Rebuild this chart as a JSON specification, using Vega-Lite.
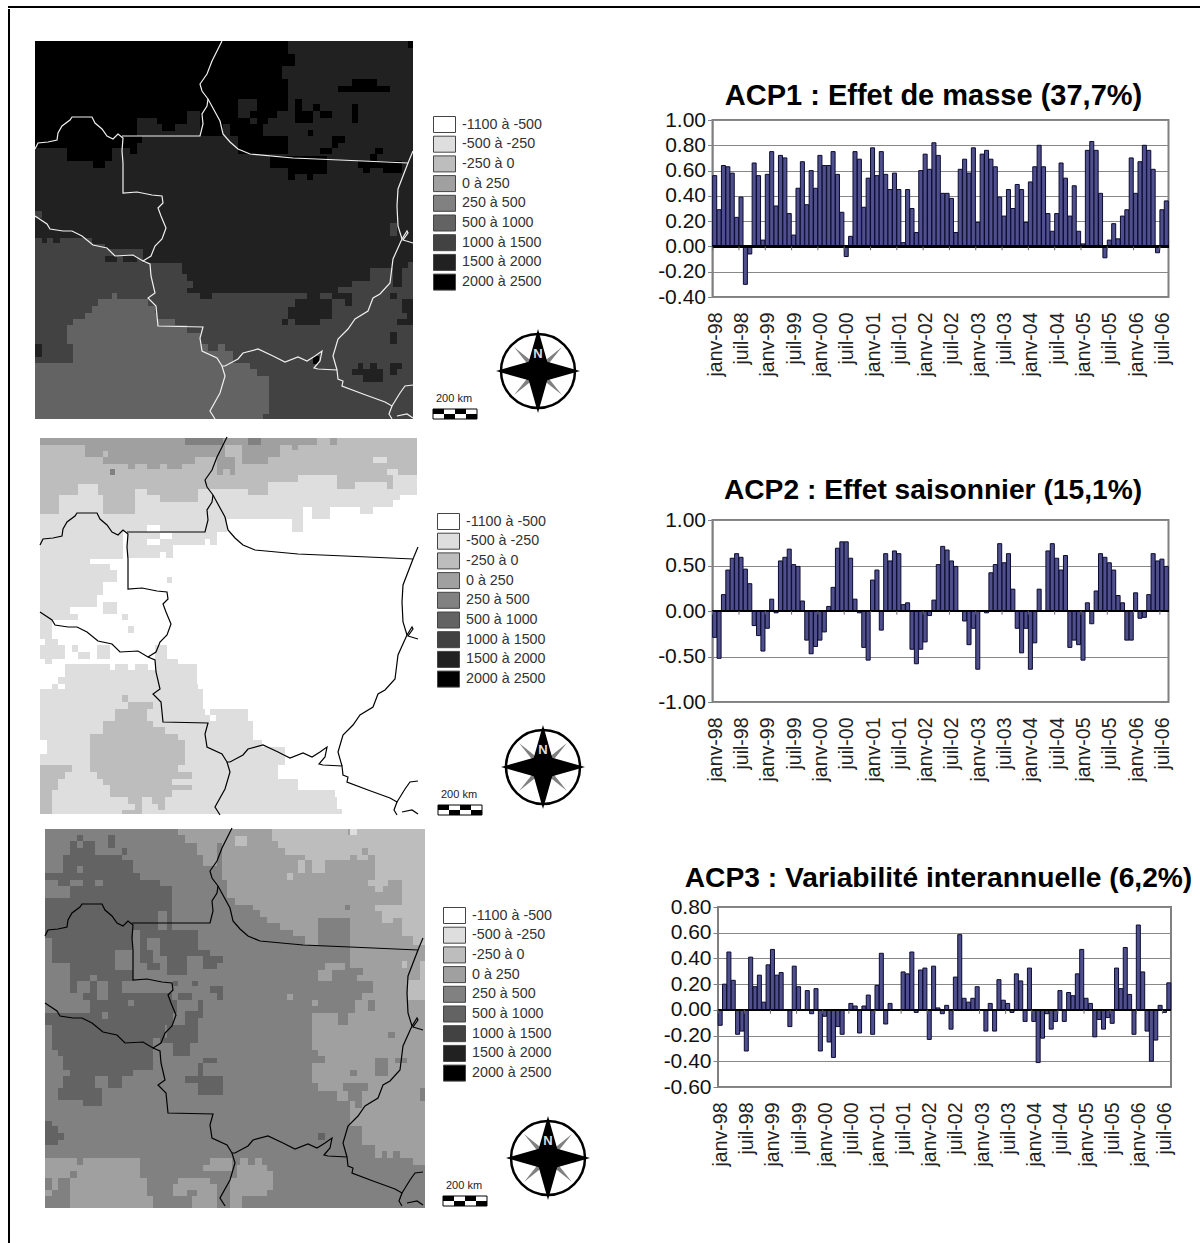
{"$schema":"https://vega.github.io/schema/vega-lite/v6.json","padding":{"left":7,"top":5,"right":0,"bottom":0},"background":"white","config":{"font":"Liberation Sans","view":{"continuousWidth":100}},
"datasets":{
"series":[
{"mois":"janv-98","acp1":0.56,"acp2":-0.29,"acp3":-0.12},{"mois":"févr-98","acp1":0.29,"acp2":-0.52,"acp3":0.20},{"mois":"mars-98","acp1":0.64,"acp2":0.18,"acp3":0.45},{"mois":"avr-98","acp1":0.63,"acp2":0.45,"acp3":0.23},{"mois":"mai-98","acp1":0.58,"acp2":0.58,"acp3":-0.19},{"mois":"juin-98","acp1":0.23,"acp2":0.63,"acp3":-0.165},{"mois":"juil-98","acp1":0.39,"acp2":0.59,"acp3":-0.32},{"mois":"août-98","acp1":-0.30,"acp2":0.46,"acp3":0.41},{"mois":"sept-98","acp1":-0.06,"acp2":0.30,"acp3":0.18},{"mois":"oct-98","acp1":0.66,"acp2":-0.16,"acp3":0.27},{"mois":"nov-98","acp1":0.56,"acp2":-0.27,"acp3":0.06},{"mois":"déc-98","acp1":0.05,"acp2":-0.44,"acp3":0.35},
{"mois":"janv-99","acp1":0.57,"acp2":-0.19,"acp3":0.47},{"mois":"févr-99","acp1":0.75,"acp2":0.13,"acp3":0.27},{"mois":"mars-99","acp1":0.32,"acp2":-0.02,"acp3":0.29},{"mois":"avr-99","acp1":0.72,"acp2":0.55,"acp3":0},{"mois":"mai-99","acp1":0.70,"acp2":0.59,"acp3":-0.13},{"mois":"juin-99","acp1":0.26,"acp2":0.68,"acp3":0.34},{"mois":"juil-99","acp1":0.09,"acp2":0.51,"acp3":0.18},{"mois":"août-99","acp1":0.46,"acp2":0.49,"acp3":0},{"mois":"sept-99","acp1":0.67,"acp2":0.11,"acp3":0.15},{"mois":"oct-99","acp1":0.33,"acp2":-0.32,"acp3":-0.03},{"mois":"nov-99","acp1":0.60,"acp2":-0.47,"acp3":0.165},{"mois":"déc-99","acp1":0.46,"acp2":-0.39,"acp3":-0.32},
{"mois":"janv-00","acp1":0.72,"acp2":-0.32,"acp3":-0.05},{"mois":"févr-00","acp1":0.64,"acp2":-0.23,"acp3":-0.25},{"mois":"mars-00","acp1":0.64,"acp2":0.05,"acp3":-0.37},{"mois":"avr-00","acp1":0.75,"acp2":0.26,"acp3":-0.13},{"mois":"mai-00","acp1":0.57,"acp2":0.69,"acp3":-0.19},{"mois":"juin-00","acp1":0.27,"acp2":0.76,"acp3":0},{"mois":"juil-00","acp1":-0.08,"acp2":0.76,"acp3":0.05},{"mois":"août-00","acp1":0.08,"acp2":0.58,"acp3":0.03},{"mois":"sept-00","acp1":0.75,"acp2":0.13,"acp3":-0.18},{"mois":"oct-00","acp1":0.69,"acp2":-0.02,"acp3":0.03},{"mois":"nov-00","acp1":0.31,"acp2":-0.40,"acp3":0.115},{"mois":"déc-00","acp1":0.54,"acp2":-0.54,"acp3":-0.19},
{"mois":"janv-01","acp1":0.78,"acp2":0.34,"acp3":0.19},{"mois":"févr-01","acp1":0.56,"acp2":0.45,"acp3":0.44},{"mois":"mars-01","acp1":0.75,"acp2":-0.21,"acp3":-0.11},{"mois":"avr-01","acp1":0.57,"acp2":0.63,"acp3":0.05},{"mois":"mai-01","acp1":0.45,"acp2":0.55,"acp3":0},{"mois":"juin-01","acp1":0.58,"acp2":0.66,"acp3":0},{"mois":"juil-01","acp1":0.45,"acp2":0.63,"acp3":0.295},{"mois":"août-01","acp1":0.03,"acp2":0.07,"acp3":0.28},{"mois":"sept-01","acp1":0.45,"acp2":0.09,"acp3":0.45},{"mois":"oct-01","acp1":0.30,"acp2":-0.42,"acp3":-0.02},{"mois":"nov-01","acp1":0.11,"acp2":-0.58,"acp3":0.31},{"mois":"déc-01","acp1":0.60,"acp2":-0.42,"acp3":0.325},
{"mois":"janv-02","acp1":0.73,"acp2":-0.34,"acp3":-0.23},{"mois":"févr-02","acp1":0.61,"acp2":-0.05,"acp3":0.34},{"mois":"mars-02","acp1":0.82,"acp2":0.12,"acp3":0.015},{"mois":"avr-02","acp1":0.72,"acp2":0.51,"acp3":-0.03},{"mois":"mai-02","acp1":0.42,"acp2":0.71,"acp3":0.035},{"mois":"juin-02","acp1":0.42,"acp2":0.67,"acp3":-0.15},{"mois":"juil-02","acp1":0.38,"acp2":0.55,"acp3":0.255},{"mois":"août-02","acp1":0.11,"acp2":0.49,"acp3":0.585},{"mois":"sept-02","acp1":0.61,"acp2":0,"acp3":0.09},{"mois":"oct-02","acp1":0.69,"acp2":-0.11,"acp3":0.06},{"mois":"nov-02","acp1":0.58,"acp2":-0.37,"acp3":0.09},{"mois":"déc-02","acp1":0.78,"acp2":-0.19,"acp3":0.18},
{"mois":"janv-03","acp1":0.19,"acp2":-0.64,"acp3":0},{"mois":"févr-03","acp1":0.73,"acp2":0,"acp3":-0.165},{"mois":"mars-03","acp1":0.76,"acp2":-0.02,"acp3":0.05},{"mois":"avr-03","acp1":0.69,"acp2":0.42,"acp3":-0.165},{"mois":"mai-03","acp1":0.63,"acp2":0.51,"acp3":0.235},{"mois":"juin-03","acp1":0.39,"acp2":0.74,"acp3":0.075},{"mois":"juil-03","acp1":0.24,"acp2":0.53,"acp3":0.05},{"mois":"août-03","acp1":0.45,"acp2":0.63,"acp3":-0.02},{"mois":"sept-03","acp1":0.30,"acp2":0.24,"acp3":0.28},{"mois":"oct-03","acp1":0.49,"acp2":-0.19,"acp3":0.225},{"mois":"nov-03","acp1":0.45,"acp2":-0.46,"acp3":-0.09},{"mois":"déc-03","acp1":0.19,"acp2":-0.19,"acp3":0.325},
{"mois":"janv-04","acp1":0.51,"acp2":-0.64,"acp3":-0.09},{"mois":"févr-04","acp1":0.63,"acp2":-0.35,"acp3":-0.41},{"mois":"mars-04","acp1":0.80,"acp2":0.24,"acp3":-0.22},{"mois":"avr-04","acp1":0.63,"acp2":0,"acp3":-0.03},{"mois":"mai-04","acp1":0.26,"acp2":0.66,"acp3":-0.15},{"mois":"juin-04","acp1":0.12,"acp2":0.74,"acp3":-0.09},{"mois":"juil-04","acp1":0.26,"acp2":0.58,"acp3":0.15},{"mois":"août-04","acp1":0.66,"acp2":0.45,"acp3":-0.09},{"mois":"sept-04","acp1":0.54,"acp2":0.61,"acp3":0.135},{"mois":"oct-04","acp1":0.24,"acp2":-0.40,"acp3":0.11},{"mois":"nov-04","acp1":0.48,"acp2":-0.32,"acp3":0.28},{"mois":"déc-04","acp1":0.12,"acp2":-0.37,"acp3":0.47},
{"mois":"janv-05","acp1":0.02,"acp2":-0.54,"acp3":0.09},{"mois":"févr-05","acp1":0.76,"acp2":0.09,"acp3":0.05},{"mois":"mars-05","acp1":0.83,"acp2":-0.14,"acp3":-0.21},{"mois":"avr-05","acp1":0.76,"acp2":0.22,"acp3":-0.075},{"mois":"mai-05","acp1":0.42,"acp2":0.63,"acp3":-0.15},{"mois":"juin-05","acp1":-0.09,"acp2":0.59,"acp3":-0.06},{"mois":"juil-05","acp1":0.05,"acp2":0.53,"acp3":-0.105},{"mois":"août-05","acp1":0.18,"acp2":0.45,"acp3":0.325},{"mois":"sept-05","acp1":0.06,"acp2":0.17,"acp3":0.165},{"mois":"oct-05","acp1":0.24,"acp2":0.09,"acp3":0.485},{"mois":"nov-05","acp1":0.29,"acp2":-0.32,"acp3":0.12},{"mois":"déc-05","acp1":0.70,"acp2":-0.32,"acp3":-0.19},
{"mois":"janv-06","acp1":0.42,"acp2":0.20,"acp3":0.66},{"mois":"févr-06","acp1":0.67,"acp2":-0.08,"acp3":0.295},{"mois":"mars-06","acp1":0.80,"acp2":-0.07,"acp3":-0.165},{"mois":"avr-06","acp1":0.76,"acp2":0.18,"acp3":-0.40},{"mois":"mai-06","acp1":0.61,"acp2":0.63,"acp3":-0.235},{"mois":"juin-06","acp1":-0.05,"acp2":0.55,"acp3":0.035},{"mois":"juil-06","acp1":0.29,"acp2":0.57,"acp3":-0.02},{"mois":"août-06","acp1":0.36,"acp2":0.49,"acp3":0.21}
],
"frontieres":[
{"s":"A","o":1,"x":575,"y":15},{"s":"A","o":2,"x":545,"y":75},{"s":"A","o":3,"x":530,"y":115},{"s":"A","o":4,"x":510,"y":145},{"s":"A","o":5,"x":515,"y":165},{"s":"A","o":6,"x":535,"y":190},{"s":"A","o":7,"x":570,"y":255},{"s":"A","o":8,"x":578,"y":295},{"s":"A","o":9,"x":600,"y":318},{"s":"A","o":10,"x":625,"y":340},{"s":"A","o":11,"x":660,"y":355},{"s":"A","o":12,"x":790,"y":365},{"s":"A","o":13,"x":930,"y":372},{"s":"A","o":14,"x":1135,"y":382},{"s":"A","o":15,"x":1150,"y":345},
{"s":"B","o":1,"x":535,"y":190},{"s":"B","o":2,"x":530,"y":210},{"s":"B","o":3,"x":517,"y":235},{"s":"B","o":4,"x":520,"y":265},{"s":"B","o":5,"x":510,"y":299},{"s":"B","o":6,"x":275,"y":301},
{"s":"C","o":1,"x":15,"y":340},{"s":"C","o":2,"x":25,"y":320},{"s":"C","o":3,"x":55,"y":318},{"s":"C","o":4,"x":80,"y":312},{"s":"C","o":5,"x":85,"y":290},{"s":"C","o":6,"x":95,"y":270},{"s":"C","o":7,"x":120,"y":252},{"s":"C","o":8,"x":125,"y":243},{"s":"C","o":9,"x":185,"y":243},{"s":"C","o":10,"x":195,"y":262},{"s":"C","o":11,"x":215,"y":278},{"s":"C","o":12,"x":232,"y":300},{"s":"C","o":13,"x":250,"y":308},{"s":"C","o":14,"x":265,"y":295},{"s":"C","o":15,"x":280,"y":305},{"s":"C","o":16,"x":275,"y":345},{"s":"C","o":17,"x":280,"y":380},{"s":"C","o":18,"x":278,"y":430},{"s":"C","o":19,"x":278,"y":470},{"s":"C","o":20,"x":320,"y":468},{"s":"C","o":21,"x":365,"y":478},{"s":"C","o":22,"x":395,"y":480},{"s":"C","o":23,"x":400,"y":500},{"s":"C","o":24,"x":385,"y":515},{"s":"C","o":25,"x":392,"y":540},{"s":"C","o":26,"x":408,"y":575},{"s":"C","o":27,"x":395,"y":610},{"s":"C","o":28,"x":375,"y":630},{"s":"C","o":29,"x":362,"y":660},{"s":"C","o":30,"x":340,"y":675},
{"s":"D","o":1,"x":15,"y":540},{"s":"D","o":2,"x":50,"y":565},{"s":"D","o":3,"x":60,"y":580},{"s":"D","o":4,"x":100,"y":585},{"s":"D","o":5,"x":125,"y":585},{"s":"D","o":6,"x":155,"y":600},{"s":"D","o":7,"x":190,"y":628},{"s":"D","o":8,"x":232,"y":635},{"s":"D","o":9,"x":255,"y":660},{"s":"D","o":10,"x":310,"y":658},{"s":"D","o":11,"x":340,"y":675},{"s":"D","o":12,"x":360,"y":685},{"s":"D","o":13,"x":362,"y":720},{"s":"D","o":14,"x":375,"y":770},{"s":"D","o":15,"x":355,"y":785},{"s":"D","o":16,"x":378,"y":810},{"s":"D","o":17,"x":385,"y":870},{"s":"D","o":18,"x":520,"y":872},{"s":"D","o":19,"x":510,"y":905},{"s":"D","o":20,"x":517,"y":945},{"s":"D","o":21,"x":560,"y":965},{"s":"D","o":22,"x":575,"y":990},{"s":"D","o":23,"x":585,"y":990},{"s":"D","o":24,"x":625,"y":970},{"s":"D","o":25,"x":640,"y":950},{"s":"D","o":26,"x":685,"y":940},{"s":"D","o":27,"x":730,"y":960},{"s":"D","o":28,"x":765,"y":978},{"s":"D","o":29,"x":805,"y":962},{"s":"D","o":30,"x":830,"y":975},{"s":"D","o":31,"x":855,"y":960},{"s":"D","o":32,"x":875,"y":945},{"s":"D","o":33,"x":870,"y":975},{"s":"D","o":34,"x":852,"y":995},{"s":"D","o":35,"x":865,"y":1000},{"s":"D","o":36,"x":920,"y":1002},{"s":"D","o":37,"x":925,"y":1030},{"s":"D","o":38,"x":940,"y":1035},{"s":"D","o":39,"x":935,"y":1050},{"s":"D","o":40,"x":1000,"y":1075},{"s":"D","o":41,"x":1065,"y":1098},{"s":"D","o":42,"x":1085,"y":1110},{"s":"D","o":43,"x":1110,"y":1070},{"s":"D","o":44,"x":1125,"y":1050},{"s":"D","o":45,"x":1150,"y":1047},
{"s":"E","o":1,"x":1135,"y":382},{"s":"E","o":2,"x":1105,"y":460},{"s":"E","o":3,"x":1100,"y":510},{"s":"E","o":4,"x":1105,"y":570},{"s":"E","o":5,"x":1115,"y":610},{"s":"E","o":6,"x":1090,"y":670},{"s":"E","o":7,"x":1080,"y":740},{"s":"E","o":8,"x":1050,"y":775},{"s":"E","o":9,"x":1030,"y":785},{"s":"E","o":10,"x":1015,"y":825},{"s":"E","o":11,"x":975,"y":850},{"s":"E","o":12,"x":955,"y":880},{"s":"E","o":13,"x":925,"y":910},{"s":"E","o":14,"x":908,"y":960},{"s":"E","o":15,"x":920,"y":1002},
{"s":"F","o":1,"x":1115,"y":610},{"s":"F","o":2,"x":1130,"y":585},{"s":"F","o":3,"x":1135,"y":590},{"s":"F","o":4,"x":1120,"y":612},{"s":"F","o":5,"x":1150,"y":620},
{"s":"G","o":1,"x":575,"y":990},{"s":"G","o":2,"x":585,"y":1020},{"s":"G","o":3,"x":570,"y":1070},{"s":"G","o":4,"x":540,"y":1125},{"s":"G","o":5,"x":555,"y":1148},
{"s":"H","o":1,"x":1085,"y":1110},{"s":"H","o":2,"x":1078,"y":1135},{"s":"H","o":3,"x":1085,"y":1148},
{"s":"I","o":1,"x":1100,"y":1140},{"s":"I","o":2,"x":1130,"y":1135},{"s":"I","o":3,"x":1150,"y":1145}
],
"echelle":[{"x0":1208,"x1":1241,"y0":1119,"y1":1134},{"x0":1274,"x1":1307,"y0":1119,"y1":1134},{"x0":1241,"x1":1274,"y0":1134,"y1":1149},{"x0":1307,"x1":1340,"y0":1134,"y1":1149}],
"echelleCadre":[{"x0":1208,"x1":1340,"y0":1119,"y1":1149}],
"echelleTexte":[{"x":1273,"y":1089,"t":"200 km"}],
"boussole":[{"x":1525,"y":1005,"t":"N"}],
"carte1":[
{"x0":15,"x1":1150,"y0":15,"y1":1148,"c":"1500 à 2000"},
{"x0":15,"x1":775,"y0":15,"y1":55,"c":"2000 à 2500"},{"x0":15,"x1":795,"y0":55,"y1":90,"c":"2000 à 2500"},{"x0":15,"x1":755,"y0":90,"y1":130,"c":"2000 à 2500"},{"x0":15,"x1":775,"y0":130,"y1":190,"c":"2000 à 2500"},
{"x0":15,"x1":625,"y0":190,"y1":225,"c":"2000 à 2500"},{"x0":680,"x1":775,"y0":190,"y1":225,"c":"2000 à 2500"},
{"x0":15,"x1":470,"y0":225,"y1":245,"c":"2000 à 2500"},{"x0":510,"x1":625,"y0":225,"y1":245,"c":"2000 à 2500"},{"x0":660,"x1":740,"y0":225,"y1":245,"c":"2000 à 2500"},
{"x0":15,"x1":320,"y0":245,"y1":265,"c":"2000 à 2500"},{"x0":380,"x1":470,"y0":245,"y1":265,"c":"2000 à 2500"},{"x0":510,"x1":660,"y0":245,"y1":265,"c":"2000 à 2500"},{"x0":680,"x1":715,"y0":245,"y1":265,"c":"2000 à 2500"},
{"x0":15,"x1":320,"y0":265,"y1":300,"c":"2000 à 2500"},{"x0":395,"x1":435,"y0":265,"y1":285,"c":"2000 à 2500"},{"x0":510,"x1":580,"y0":265,"y1":300,"c":"2000 à 2500"},{"x0":600,"x1":700,"y0":265,"y1":300,"c":"2000 à 2500"},
{"x0":15,"x1":280,"y0":300,"y1":335,"c":"2000 à 2500"},{"x0":280,"x1":335,"y0":300,"y1":320,"c":"2000 à 2500"},{"x0":280,"x1":320,"y0":320,"y1":335,"c":"2000 à 2500"},{"x0":625,"x1":775,"y0":300,"y1":355,"c":"2000 à 2500"},
{"x0":110,"x1":245,"y0":335,"y1":375,"c":"2000 à 2500"},{"x0":300,"x1":320,"y0":335,"y1":355,"c":"2000 à 2500"},{"x0":190,"x1":225,"y0":375,"y1":395,"c":"2000 à 2500"},
{"x0":720,"x1":890,"y0":360,"y1":395,"c":"2000 à 2500"},{"x0":775,"x1":890,"y0":395,"y1":413,"c":"2000 à 2500"},{"x0":775,"x1":795,"y0":413,"y1":432,"c":"2000 à 2500"},{"x0":830,"x1":850,"y0":413,"y1":432,"c":"2000 à 2500"},
{"x0":985,"x1":1115,"y0":375,"y1":395,"c":"2000 à 2500"},{"x0":1000,"x1":1020,"y0":395,"y1":412,"c":"2000 à 2500"},{"x0":1060,"x1":1115,"y0":395,"y1":412,"c":"2000 à 2500"},
{"x0":870,"x1":905,"y0":337,"y1":355,"c":"2000 à 2500"},{"x0":905,"x1":945,"y0":300,"y1":320,"c":"2000 à 2500"},{"x0":905,"x1":925,"y0":320,"y1":337,"c":"2000 à 2500"},{"x0":1035,"x1":1060,"y0":337,"y1":355,"c":"2000 à 2500"},{"x0":1020,"x1":1040,"y0":355,"y1":375,"c":"2000 à 2500"},{"x0":835,"x1":850,"y0":282,"y1":300,"c":"2000 à 2500"},{"x0":1135,"x1":1150,"y0":15,"y1":35,"c":"2000 à 2500"},
{"x0":925,"x1":1080,"y0":150,"y1":168,"c":"2000 à 2500"},{"x0":965,"x1":1040,"y0":130,"y1":150,"c":"2000 à 2500"},{"x0":965,"x1":985,"y0":205,"y1":262,"c":"2000 à 2500"},{"x0":850,"x1":870,"y0":205,"y1":225,"c":"2000 à 2500"},{"x0":870,"x1":905,"y0":225,"y1":245,"c":"2000 à 2500"},{"x0":795,"x1":815,"y0":190,"y1":225,"c":"2000 à 2500"},{"x0":795,"x1":850,"y0":225,"y1":262,"c":"2000 à 2500"},
{"x0":15,"x1":35,"y0":525,"y1":545,"c":"1000 à 1500"},{"x0":15,"x1":185,"y0":605,"y1":625,"c":"1000 à 1500"},{"x0":35,"x1":50,"y0":605,"y1":622,"c":"1500 à 2000"},{"x0":70,"x1":90,"y0":605,"y1":622,"c":"1500 à 2000"},{"x0":15,"x1":225,"y0":625,"y1":640,"c":"1000 à 1500"},{"x0":15,"x1":340,"y0":640,"y1":680,"c":"1000 à 1500"},{"x0":225,"x1":262,"y0":660,"y1":678,"c":"1500 à 2000"},{"x0":280,"x1":320,"y0":660,"y1":678,"c":"1500 à 2000"},
{"x0":15,"x1":455,"y0":680,"y1":715,"c":"1000 à 1500"},{"x0":15,"x1":470,"y0":715,"y1":735,"c":"1000 à 1500"},{"x0":15,"x1":490,"y0":735,"y1":755,"c":"1000 à 1500"},{"x0":15,"x1":470,"y0":755,"y1":772,"c":"1000 à 1500"},{"x0":15,"x1":510,"y0":772,"y1":790,"c":"1000 à 1500"},{"x0":545,"x1":830,"y0":772,"y1":790,"c":"1000 à 1500"},{"x0":870,"x1":905,"y0":772,"y1":790,"c":"1000 à 1500"},
{"x0":925,"x1":1150,"y0":752,"y1":790,"c":"1000 à 1500"},{"x0":965,"x1":1090,"y0":735,"y1":752,"c":"1000 à 1500"},{"x0":1020,"x1":1090,"y0":697,"y1":735,"c":"1000 à 1500"},{"x0":1115,"x1":1150,"y0":697,"y1":752,"c":"1000 à 1500"},{"x0":1135,"x1":1150,"y0":678,"y1":697,"c":"1000 à 1500"},{"x0":1080,"x1":1100,"y0":562,"y1":600,"c":"1000 à 1500"},
{"x0":15,"x1":1150,"y0":790,"y1":1148,"c":"1000 à 1500"},
{"x0":795,"x1":905,"y0":790,"y1":812,"c":"1500 à 2000"},{"x0":775,"x1":905,"y0":812,"y1":850,"c":"1500 à 2000"},{"x0":795,"x1":870,"y0":850,"y1":868,"c":"1500 à 2000"},{"x0":755,"x1":775,"y0":850,"y1":868,"c":"1500 à 2000"},{"x0":905,"x1":965,"y0":772,"y1":790,"c":"1500 à 2000"},{"x0":830,"x1":870,"y0":772,"y1":790,"c":"1500 à 2000"},{"x0":945,"x1":965,"y0":790,"y1":810,"c":"1500 à 2000"},
{"x0":1080,"x1":1100,"y0":772,"y1":790,"c":"1500 à 2000"},{"x0":1115,"x1":1150,"y0":790,"y1":830,"c":"1500 à 2000"},{"x0":1130,"x1":1150,"y0":810,"y1":850,"c":"1500 à 2000"},{"x0":1100,"x1":1150,"y0":850,"y1":868,"c":"1500 à 2000"},{"x0":1080,"x1":1100,"y0":888,"y1":925,"c":"1500 à 2000"},
{"x0":985,"x1":1000,"y0":980,"y1":1000,"c":"1500 à 2000"},{"x0":1020,"x1":1040,"y0":980,"y1":1000,"c":"1500 à 2000"},{"x0":1080,"x1":1115,"y0":980,"y1":1000,"c":"1500 à 2000"},{"x0":1080,"x1":1100,"y0":1000,"y1":1017,"c":"1500 à 2000"},{"x0":965,"x1":1060,"y0":1000,"y1":1017,"c":"1500 à 2000"},{"x0":1000,"x1":1060,"y0":1017,"y1":1037,"c":"1500 à 2000"},
{"x0":15,"x1":35,"y0":925,"y1":963,"c":"1500 à 2000"},{"x0":850,"x1":868,"y0":960,"y1":985,"c":"2000 à 2500"},
{"x0":245,"x1":262,"y0":772,"y1":790,"c":"500 à 1000"},{"x0":205,"x1":355,"y0":790,"y1":810,"c":"500 à 1000"},{"x0":185,"x1":375,"y0":810,"y1":830,"c":"500 à 1000"},{"x0":165,"x1":380,"y0":830,"y1":850,"c":"500 à 1000"},{"x0":130,"x1":435,"y0":850,"y1":868,"c":"500 à 1000"},{"x0":110,"x1":470,"y0":868,"y1":890,"c":"500 à 1000"},{"x0":110,"x1":510,"y0":890,"y1":925,"c":"500 à 1000"},{"x0":130,"x1":535,"y0":925,"y1":945,"c":"500 à 1000"},{"x0":565,"x1":585,"y0":925,"y1":945,"c":"500 à 1000"},{"x0":130,"x1":610,"y0":945,"y1":980,"c":"500 à 1000"},{"x0":15,"x1":660,"y0":980,"y1":1000,"c":"500 à 1000"},{"x0":15,"x1":680,"y0":1000,"y1":1020,"c":"500 à 1000"},{"x0":15,"x1":718,"y0":1020,"y1":1135,"c":"500 à 1000"},{"x0":15,"x1":700,"y0":1135,"y1":1148,"c":"500 à 1000"}
],
"carte2":[
{"x0":15,"x1":1147,"y0":18,"y1":245,"c":"-250 à 0"},
{"x0":15,"x1":450,"y0":18,"y1":38,"c":"0 à 250"},{"x0":450,"x1":565,"y0":18,"y1":38,"c":"250 à 500"},{"x0":565,"x1":640,"y0":18,"y1":38,"c":"0 à 250"},{"x0":640,"x1":678,"y0":18,"y1":38,"c":"250 à 500"},{"x0":678,"x1":845,"y0":18,"y1":38,"c":"0 à 250"},{"x0":885,"x1":905,"y0":18,"y1":38,"c":"0 à 250"},
{"x0":150,"x1":570,"y0":38,"y1":57,"c":"0 à 250"},{"x0":620,"x1":735,"y0":38,"y1":57,"c":"0 à 250"},{"x0":770,"x1":790,"y0":38,"y1":55,"c":"0 à 250"},{"x0":150,"x1":205,"y0":57,"y1":75,"c":"0 à 250"},{"x0":220,"x1":570,"y0":57,"y1":75,"c":"0 à 250"},{"x0":620,"x1":735,"y0":57,"y1":75,"c":"0 à 250"},
{"x0":205,"x1":480,"y0":75,"y1":95,"c":"0 à 250"},{"x0":545,"x1":600,"y0":75,"y1":112,"c":"0 à 250"},{"x0":620,"x1":700,"y0":75,"y1":95,"c":"0 à 250"},{"x0":280,"x1":300,"y0":95,"y1":112,"c":"0 à 250"},{"x0":335,"x1":375,"y0":95,"y1":112,"c":"0 à 250"},{"x0":395,"x1":440,"y0":95,"y1":112,"c":"0 à 250"},{"x0":225,"x1":240,"y0":112,"y1":130,"c":"250 à 500"},{"x0":545,"x1":565,"y0":112,"y1":130,"c":"0 à 250"},{"x0":585,"x1":600,"y0":112,"y1":130,"c":"0 à 250"},
{"x0":1015,"x1":1055,"y0":75,"y1":92,"c":"-500 à -250"},{"x0":1055,"x1":1147,"y0":112,"y1":130,"c":"-500 à -250"},{"x0":1075,"x1":1147,"y0":130,"y1":245,"c":"-500 à -250"},{"x0":1090,"x1":1147,"y0":112,"y1":130,"c":"-250 à 0"},
{"x0":15,"x1":72,"y0":245,"y1":300,"c":"-500 à -250"},{"x0":72,"x1":130,"y0":190,"y1":245,"c":"-500 à -250"},{"x0":130,"x1":190,"y0":155,"y1":245,"c":"-500 à -250"},{"x0":190,"x1":205,"y0":190,"y1":245,"c":"-500 à -250"},{"x0":300,"x1":335,"y0":170,"y1":245,"c":"-500 à -250"},{"x0":335,"x1":375,"y0":190,"y1":245,"c":"-500 à -250"},{"x0":375,"x1":490,"y0":210,"y1":245,"c":"-500 à -250"},{"x0":490,"x1":640,"y0":170,"y1":245,"c":"-500 à -250"},{"x0":640,"x1":700,"y0":190,"y1":245,"c":"-500 à -250"},{"x0":700,"x1":790,"y0":150,"y1":245,"c":"-500 à -250"},{"x0":790,"x1":905,"y0":130,"y1":245,"c":"-500 à -250"},{"x0":905,"x1":960,"y0":170,"y1":245,"c":"-500 à -250"},{"x0":960,"x1":1055,"y0":150,"y1":245,"c":"-500 à -250"},{"x0":1055,"x1":1075,"y0":170,"y1":245,"c":"-500 à -250"},
{"x0":805,"x1":830,"y0":225,"y1":245,"c":"-1100 à -500"},{"x0":885,"x1":975,"y0":225,"y1":245,"c":"-1100 à -500"},{"x0":1015,"x1":1147,"y0":225,"y1":245,"c":"-1100 à -500"},{"x0":1095,"x1":1147,"y0":190,"y1":225,"c":"-1100 à -500"},{"x0":1075,"x1":1095,"y0":205,"y1":225,"c":"-1100 à -500"},
{"x0":15,"x1":575,"y0":245,"y1":300,"c":"-500 à -250"},{"x0":575,"x1":770,"y0":245,"y1":262,"c":"-500 à -250"},{"x0":770,"x1":805,"y0":245,"y1":300,"c":"-500 à -250"},{"x0":830,"x1":885,"y0":245,"y1":262,"c":"-500 à -250"},
{"x0":15,"x1":265,"y0":300,"y1":380,"c":"-500 à -250"},{"x0":275,"x1":510,"y0":300,"y1":338,"c":"-500 à -250"},{"x0":510,"x1":545,"y0":300,"y1":320,"c":"-500 à -250"},{"x0":525,"x1":545,"y0":320,"y1":338,"c":"-500 à -250"},{"x0":275,"x1":415,"y0":338,"y1":378,"c":"-500 à -250"},
{"x0":335,"x1":375,"y0":280,"y1":300,"c":"-1100 à -500"},{"x0":335,"x1":375,"y0":320,"y1":338,"c":"-1100 à -500"},{"x0":375,"x1":410,"y0":302,"y1":320,"c":"-1100 à -500"},{"x0":375,"x1":393,"y0":360,"y1":378,"c":"-1100 à -500"},
{"x0":15,"x1":165,"y0":380,"y1":395,"c":"-500 à -250"},{"x0":15,"x1":225,"y0":395,"y1":415,"c":"-500 à -250"},{"x0":15,"x1":245,"y0":415,"y1":450,"c":"-500 à -250"},{"x0":15,"x1":205,"y0":450,"y1":490,"c":"-500 à -250"},{"x0":15,"x1":185,"y0":490,"y1":525,"c":"-500 à -250"},{"x0":15,"x1":105,"y0":525,"y1":545,"c":"-500 à -250"},{"x0":15,"x1":130,"y0":545,"y1":565,"c":"-500 à -250"},{"x0":15,"x1":50,"y0":565,"y1":620,"c":"-500 à -250"},
{"x0":205,"x1":245,"y0":510,"y1":545,"c":"-500 à -250"},{"x0":260,"x1":280,"y0":545,"y1":565,"c":"-500 à -250"},{"x0":280,"x1":298,"y0":583,"y1":602,"c":"-500 à -250"},{"x0":395,"x1":412,"y0":435,"y1":452,"c":"-500 à -250"},
{"x0":30,"x1":70,"y0":622,"y1":640,"c":"-500 à -250"},{"x0":15,"x1":90,"y0":640,"y1":680,"c":"-500 à -250"},{"x0":30,"x1":50,"y0":680,"y1":697,"c":"-500 à -250"},{"x0":110,"x1":130,"y0":640,"y1":660,"c":"-500 à -250"},{"x0":185,"x1":225,"y0":640,"y1":680,"c":"-500 à -250"},{"x0":130,"x1":165,"y0":660,"y1":680,"c":"-500 à -250"},{"x0":360,"x1":395,"y0":640,"y1":680,"c":"-500 à -250"},{"x0":360,"x1":430,"y0":680,"y1":697,"c":"-500 à -250"},
{"x0":90,"x1":225,"y0":697,"y1":715,"c":"-500 à -250"},{"x0":240,"x1":280,"y0":697,"y1":715,"c":"-500 à -250"},{"x0":300,"x1":340,"y0":697,"y1":715,"c":"-500 à -250"},{"x0":360,"x1":485,"y0":697,"y1":715,"c":"-500 à -250"},
{"x0":90,"x1":485,"y0":715,"y1":735,"c":"-500 à -250"},{"x0":70,"x1":485,"y0":735,"y1":755,"c":"-500 à -250"},{"x0":90,"x1":490,"y0":755,"y1":772,"c":"-500 à -250"},{"x0":50,"x1":70,"y0":755,"y1":772,"c":"-500 à -250"},{"x0":15,"x1":505,"y0":772,"y1":830,"c":"-500 à -250"},{"x0":15,"x1":640,"y0":830,"y1":868,"c":"-500 à -250"},{"x0":510,"x1":525,"y0":830,"y1":850,"c":"-1100 à -500"},{"x0":525,"x1":542,"y0":850,"y1":868,"c":"-1100 à -500"},{"x0":15,"x1":655,"y0":868,"y1":925,"c":"-500 à -250"},{"x0":35,"x1":680,"y0":925,"y1":945,"c":"-500 à -250"},{"x0":35,"x1":750,"y0":945,"y1":965,"c":"-500 à -250"},{"x0":15,"x1":750,"y0":965,"y1":1000,"c":"-500 à -250"},{"x0":15,"x1":730,"y0":1000,"y1":1040,"c":"-500 à -250"},{"x0":15,"x1":790,"y0":1040,"y1":1075,"c":"-500 à -250"},{"x0":15,"x1":900,"y0":1075,"y1":1095,"c":"-500 à -250"},{"x0":15,"x1":905,"y0":1095,"y1":1130,"c":"-500 à -250"},{"x0":15,"x1":920,"y0":1130,"y1":1145,"c":"-500 à -250"},
{"x0":260,"x1":280,"y0":790,"y1":810,"c":"-250 à 0"},{"x0":280,"x1":355,"y0":810,"y1":830,"c":"-250 à 0"},{"x0":240,"x1":335,"y0":830,"y1":868,"c":"-250 à 0"},{"x0":205,"x1":355,"y0":868,"y1":885,"c":"-250 à 0"},{"x0":205,"x1":390,"y0":885,"y1":905,"c":"-250 à 0"},{"x0":165,"x1":430,"y0":905,"y1":925,"c":"-250 à 0"},{"x0":165,"x1":450,"y0":925,"y1":1000,"c":"-250 à 0"},{"x0":165,"x1":430,"y0":1000,"y1":1020,"c":"-250 à 0"},{"x0":185,"x1":470,"y0":1020,"y1":1040,"c":"-250 à 0"},{"x0":205,"x1":410,"y0":1040,"y1":1058,"c":"-250 à 0"},{"x0":225,"x1":470,"y0":1058,"y1":1075,"c":"-250 à 0"},{"x0":225,"x1":410,"y0":1075,"y1":1095,"c":"-250 à 0"},{"x0":280,"x1":320,"y0":1095,"y1":1115,"c":"-250 à 0"},{"x0":350,"x1":390,"y0":1095,"y1":1115,"c":"-250 à 0"},{"x0":300,"x1":320,"y0":1115,"y1":1133,"c":"-250 à 0"},{"x0":370,"x1":390,"y0":1115,"y1":1133,"c":"-250 à 0"},{"x0":260,"x1":320,"y0":1133,"y1":1145,"c":"-250 à 0"},
{"x0":15,"x1":110,"y0":1000,"y1":1020,"c":"-250 à 0"},{"x0":15,"x1":90,"y0":1020,"y1":1040,"c":"-250 à 0"},{"x0":15,"x1":70,"y0":1040,"y1":1075,"c":"-250 à 0"},{"x0":15,"x1":50,"y0":1075,"y1":1145,"c":"-250 à 0"}
],
"carte3":[
{"x0":15,"x1":1155,"y0":18,"y1":1155,"c":"250 à 500"},
{"x0":415,"x1":580,"y0":18,"y1":35,"c":"0 à 250"},{"x0":435,"x1":580,"y0":35,"y1":60,"c":"0 à 250"},{"x0":470,"x1":530,"y0":60,"y1":95,"c":"0 à 250"},{"x0":490,"x1":530,"y0":95,"y1":130,"c":"0 à 250"},
{"x0":580,"x1":1155,"y0":18,"y1":60,"c":"0 à 250"},{"x0":545,"x1":1155,"y0":60,"y1":130,"c":"0 à 250"},{"x0":545,"x1":1155,"y0":130,"y1":170,"c":"0 à 250"},{"x0":560,"x1":1155,"y0":170,"y1":225,"c":"0 à 250"},{"x0":585,"x1":1155,"y0":225,"y1":245,"c":"0 à 250"},{"x0":640,"x1":1155,"y0":245,"y1":262,"c":"0 à 250"},{"x0":660,"x1":1155,"y0":262,"y1":282,"c":"0 à 250"},{"x0":680,"x1":1155,"y0":282,"y1":300,"c":"0 à 250"},{"x0":720,"x1":1155,"y0":300,"y1":320,"c":"0 à 250"},{"x0":760,"x1":1155,"y0":320,"y1":340,"c":"0 à 250"},{"x0":795,"x1":1155,"y0":340,"y1":365,"c":"0 à 250"},{"x0":835,"x1":930,"y0":285,"y1":370,"c":"250 à 500"},{"x0":915,"x1":930,"y0":245,"y1":262,"c":"250 à 500"},
{"x0":930,"x1":1155,"y0":365,"y1":435,"c":"0 à 250"},{"x0":950,"x1":1155,"y0":435,"y1":475,"c":"0 à 250"},{"x0":1000,"x1":1155,"y0":475,"y1":510,"c":"0 à 250"},{"x0":965,"x1":1155,"y0":510,"y1":530,"c":"0 à 250"},{"x0":945,"x1":1155,"y0":530,"y1":570,"c":"0 à 250"},{"x0":985,"x1":1005,"y0":530,"y1":565,"c":"250 à 500"},
{"x0":815,"x1":895,"y0":570,"y1":605,"c":"0 à 250"},{"x0":925,"x1":1155,"y0":570,"y1":605,"c":"0 à 250"},{"x0":815,"x1":1155,"y0":605,"y1":680,"c":"0 à 250"},{"x0":855,"x1":895,"y0":625,"y1":645,"c":"0 à 250"},{"x0":835,"x1":1155,"y0":680,"y1":700,"c":"0 à 250"},{"x0":855,"x1":1155,"y0":700,"y1":720,"c":"0 à 250"},{"x0":815,"x1":1155,"y0":720,"y1":780,"c":"0 à 250"},{"x0":835,"x1":910,"y0":780,"y1":805,"c":"0 à 250"},{"x0":985,"x1":1155,"y0":780,"y1":805,"c":"0 à 250"},{"x0":890,"x1":925,"y0":805,"y1":835,"c":"0 à 250"},{"x0":965,"x1":1155,"y0":805,"y1":835,"c":"0 à 250"},{"x0":930,"x1":945,"y0":835,"y1":855,"c":"0 à 250"},{"x0":965,"x1":1155,"y0":835,"y1":855,"c":"0 à 250"},{"x0":930,"x1":1155,"y0":855,"y1":910,"c":"0 à 250"},{"x0":965,"x1":1155,"y0":910,"y1":965,"c":"0 à 250"},{"x0":1005,"x1":1155,"y0":965,"y1":985,"c":"0 à 250"},{"x0":1005,"x1":1025,"y0":985,"y1":1005,"c":"0 à 250"},{"x0":1040,"x1":1060,"y0":985,"y1":1005,"c":"0 à 250"},{"x0":1080,"x1":1155,"y0":985,"y1":1005,"c":"0 à 250"},{"x0":1120,"x1":1155,"y0":1005,"y1":1025,"c":"0 à 250"},
{"x0":1005,"x1":1045,"y0":705,"y1":760,"c":"250 à 500"},{"x0":1065,"x1":1100,"y0":705,"y1":720,"c":"250 à 500"},{"x0":1140,"x1":1155,"y0":795,"y1":835,"c":"250 à 500"},{"x0":1045,"x1":1065,"y0":628,"y1":645,"c":"250 à 500"},{"x0":930,"x1":950,"y0":740,"y1":758,"c":"250 à 500"},{"x0":950,"x1":968,"y0":435,"y1":455,"c":"250 à 500"},
{"x0":835,"x1":875,"y0":440,"y1":475,"c":"0 à 250"},{"x0":855,"x1":915,"y0":420,"y1":440,"c":"0 à 250"},{"x0":815,"x1":835,"y0":530,"y1":550,"c":"0 à 250"},{"x0":740,"x1":760,"y0":512,"y1":530,"c":"0 à 250"},
{"x0":585,"x1":620,"y0":40,"y1":70,"c":"-250 à 0"},{"x0":695,"x1":925,"y0":18,"y1":35,"c":"-250 à 0"},{"x0":950,"x1":1155,"y0":18,"y1":35,"c":"-250 à 0"},{"x0":930,"x1":950,"y0":18,"y1":35,"c":"-500 à -250"},{"x0":695,"x1":1155,"y0":35,"y1":55,"c":"-250 à 0"},{"x0":715,"x1":1155,"y0":55,"y1":75,"c":"-250 à 0"},{"x0":735,"x1":965,"y0":75,"y1":95,"c":"-250 à 0"},{"x0":985,"x1":1155,"y0":75,"y1":95,"c":"-250 à 0"},{"x0":795,"x1":930,"y0":95,"y1":112,"c":"-250 à 0"},{"x0":950,"x1":985,"y0":95,"y1":112,"c":"-250 à 0"},{"x0":1005,"x1":1155,"y0":95,"y1":170,"c":"-250 à 0"},{"x0":815,"x1":855,"y0":112,"y1":150,"c":"-250 à 0"},{"x0":775,"x1":795,"y0":112,"y1":150,"c":"-250 à 0"},{"x0":740,"x1":760,"y0":150,"y1":170,"c":"-250 à 0"},{"x0":985,"x1":1045,"y0":170,"y1":190,"c":"-250 à 0"},{"x0":1005,"x1":1030,"y0":190,"y1":207,"c":"-250 à 0"},{"x0":1085,"x1":1155,"y0":170,"y1":245,"c":"-250 à 0"},{"x0":1005,"x1":1155,"y0":245,"y1":265,"c":"-250 à 0"},{"x0":1025,"x1":1155,"y0":265,"y1":285,"c":"-250 à 0"},{"x0":1025,"x1":1060,"y0":285,"y1":300,"c":"-250 à 0"},{"x0":1085,"x1":1155,"y0":285,"y1":340,"c":"-250 à 0"},{"x0":1120,"x1":1155,"y0":340,"y1":365,"c":"-250 à 0"},{"x0":1140,"x1":1155,"y0":415,"y1":470,"c":"-250 à 0"},{"x0":1105,"x1":1155,"y0":470,"y1":530,"c":"-250 à 0"},{"x0":1085,"x1":1100,"y0":415,"y1":435,"c":"-250 à 0"},
{"x0":110,"x1":130,"y0":35,"y1":55,"c":"500 à 1000"},{"x0":205,"x1":225,"y0":35,"y1":75,"c":"500 à 1000"},{"x0":90,"x1":110,"y0":55,"y1":75,"c":"500 à 1000"},{"x0":130,"x1":165,"y0":55,"y1":75,"c":"500 à 1000"},{"x0":90,"x1":165,"y0":75,"y1":95,"c":"500 à 1000"},{"x0":245,"x1":262,"y0":75,"y1":95,"c":"500 à 1000"},{"x0":70,"x1":205,"y0":95,"y1":112,"c":"500 à 1000"},{"x0":205,"x1":245,"y0":95,"y1":112,"c":"500 à 1000"},{"x0":70,"x1":280,"y0":112,"y1":130,"c":"500 à 1000"},{"x0":70,"x1":110,"y0":130,"y1":150,"c":"500 à 1000"},{"x0":130,"x1":280,"y0":130,"y1":150,"c":"500 à 1000"},{"x0":15,"x1":300,"y0":150,"y1":170,"c":"500 à 1000"},{"x0":55,"x1":90,"y0":170,"y1":190,"c":"500 à 1000"},{"x0":130,"x1":165,"y0":170,"y1":190,"c":"500 à 1000"},{"x0":190,"x1":360,"y0":170,"y1":190,"c":"500 à 1000"},{"x0":90,"x1":395,"y0":190,"y1":225,"c":"500 à 1000"},{"x0":15,"x1":395,"y0":225,"y1":265,"c":"500 à 1000"},{"x0":15,"x1":355,"y0":265,"y1":320,"c":"500 à 1000"},{"x0":380,"x1":395,"y0":265,"y1":320,"c":"500 à 1000"},{"x0":15,"x1":280,"y0":320,"y1":345,"c":"500 à 1000"},{"x0":300,"x1":475,"y0":320,"y1":345,"c":"500 à 1000"},{"x0":35,"x1":275,"y0":345,"y1":380,"c":"500 à 1000"},{"x0":300,"x1":320,"y0":345,"y1":380,"c":"500 à 1000"},{"x0":360,"x1":475,"y0":345,"y1":380,"c":"500 à 1000"},{"x0":35,"x1":225,"y0":380,"y1":420,"c":"500 à 1000"},{"x0":300,"x1":340,"y0":380,"y1":420,"c":"500 à 1000"},{"x0":360,"x1":510,"y0":380,"y1":400,"c":"500 à 1000"},{"x0":380,"x1":440,"y0":400,"y1":420,"c":"500 à 1000"},{"x0":490,"x1":550,"y0":400,"y1":420,"c":"500 à 1000"},{"x0":90,"x1":225,"y0":420,"y1":440,"c":"500 à 1000"},{"x0":320,"x1":360,"y0":420,"y1":440,"c":"500 à 1000"},{"x0":380,"x1":440,"y0":420,"y1":455,"c":"500 à 1000"},{"x0":490,"x1":530,"y0":420,"y1":437,"c":"500 à 1000"},{"x0":90,"x1":280,"y0":440,"y1":475,"c":"500 à 1000"},{"x0":150,"x1":170,"y0":457,"y1":475,"c":"250 à 500"},{"x0":110,"x1":150,"y0":475,"y1":492,"c":"250 à 500"},{"x0":90,"x1":110,"y0":475,"y1":510,"c":"500 à 1000"},{"x0":150,"x1":170,"y0":475,"y1":510,"c":"500 à 1000"},{"x0":205,"x1":245,"y0":475,"y1":510,"c":"500 à 1000"},{"x0":265,"x1":400,"y0":490,"y1":510,"c":"250 à 500"},{"x0":130,"x1":170,"y0":510,"y1":530,"c":"500 à 1000"},{"x0":205,"x1":395,"y0":510,"y1":530,"c":"500 à 1000"},{"x0":150,"x1":410,"y0":530,"y1":570,"c":"500 à 1000"},{"x0":265,"x1":282,"y0":530,"y1":548,"c":"250 à 500"},{"x0":15,"x1":400,"y0":570,"y1":605,"c":"500 à 1000"},{"x0":185,"x1":205,"y0":568,"y1":587,"c":"250 à 500"},{"x0":35,"x1":375,"y0":605,"y1":645,"c":"500 à 1000"},{"x0":35,"x1":340,"y0":645,"y1":680,"c":"500 à 1000"},{"x0":55,"x1":340,"y0":680,"y1":700,"c":"500 à 1000"},{"x0":70,"x1":340,"y0":700,"y1":740,"c":"500 à 1000"},{"x0":90,"x1":280,"y0":740,"y1":760,"c":"500 à 1000"},{"x0":70,"x1":165,"y0":760,"y1":795,"c":"500 à 1000"},{"x0":205,"x1":245,"y0":760,"y1":795,"c":"500 à 1000"},{"x0":55,"x1":185,"y0":795,"y1":830,"c":"500 à 1000"},{"x0":130,"x1":185,"y0":830,"y1":850,"c":"500 à 1000"},
{"x0":435,"x1":490,"y0":565,"y1":585,"c":"500 à 1000"},{"x0":475,"x1":490,"y0":530,"y1":565,"c":"500 à 1000"},{"x0":435,"x1":475,"y0":585,"y1":605,"c":"500 à 1000"},{"x0":380,"x1":475,"y0":605,"y1":645,"c":"500 à 1000"},{"x0":360,"x1":475,"y0":645,"y1":660,"c":"500 à 1000"},{"x0":400,"x1":450,"y0":660,"y1":700,"c":"500 à 1000"},{"x0":490,"x1":530,"y0":705,"y1":720,"c":"500 à 1000"},{"x0":475,"x1":490,"y0":720,"y1":760,"c":"500 à 1000"},{"x0":435,"x1":550,"y0":760,"y1":780,"c":"500 à 1000"},{"x0":475,"x1":550,"y0":780,"y1":815,"c":"500 à 1000"},{"x0":510,"x1":550,"y0":490,"y1":510,"c":"500 à 1000"},{"x0":530,"x1":550,"y0":510,"y1":530,"c":"500 à 1000"},{"x0":400,"x1":415,"y0":475,"y1":490,"c":"500 à 1000"},{"x0":455,"x1":475,"y0":475,"y1":490,"c":"500 à 1000"},{"x0":415,"x1":455,"y0":510,"y1":530,"c":"500 à 1000"},
{"x0":15,"x1":35,"y0":893,"y1":965,"c":"500 à 1000"},{"x0":35,"x1":55,"y0":910,"y1":965,"c":"500 à 1000"},{"x0":55,"x1":72,"y0":930,"y1":950,"c":"500 à 1000"},{"x0":835,"x1":855,"y0":930,"y1":950,"c":"500 à 1000"},
{"x0":15,"x1":110,"y0":1005,"y1":1025,"c":"0 à 250"},{"x0":130,"x1":300,"y0":1005,"y1":1025,"c":"0 à 250"},{"x0":510,"x1":575,"y0":1005,"y1":1025,"c":"0 à 250"},{"x0":600,"x1":625,"y0":1005,"y1":1025,"c":"0 à 250"},{"x0":645,"x1":665,"y0":1005,"y1":1025,"c":"0 à 250"},{"x0":15,"x1":300,"y0":1025,"y1":1045,"c":"0 à 250"},{"x0":490,"x1":575,"y0":1025,"y1":1045,"c":"0 à 250"},{"x0":590,"x1":680,"y0":1025,"y1":1045,"c":"0 à 250"},{"x0":15,"x1":90,"y0":1045,"y1":1065,"c":"0 à 250"},{"x0":110,"x1":300,"y0":1045,"y1":1065,"c":"0 à 250"},{"x0":590,"x1":700,"y0":1045,"y1":1065,"c":"0 à 250"},{"x0":35,"x1":55,"y0":1065,"y1":1100,"c":"0 à 250"},{"x0":90,"x1":320,"y0":1065,"y1":1100,"c":"0 à 250"},{"x0":415,"x1":510,"y0":1065,"y1":1082,"c":"0 à 250"},{"x0":400,"x1":530,"y0":1082,"y1":1100,"c":"0 à 250"},{"x0":570,"x1":700,"y0":1065,"y1":1100,"c":"0 à 250"},{"x0":15,"x1":35,"y0":1100,"y1":1120,"c":"0 à 250"},{"x0":90,"x1":320,"y0":1100,"y1":1120,"c":"0 à 250"},{"x0":400,"x1":440,"y0":1100,"y1":1120,"c":"0 à 250"},{"x0":470,"x1":530,"y0":1100,"y1":1120,"c":"0 à 250"},{"x0":570,"x1":680,"y0":1100,"y1":1120,"c":"0 à 250"},{"x0":90,"x1":340,"y0":1120,"y1":1155,"c":"0 à 250"},{"x0":455,"x1":530,"y0":1120,"y1":1155,"c":"0 à 250"},{"x0":570,"x1":605,"y0":1120,"y1":1155,"c":"0 à 250"}
]
},
"vconcat":[
{"width":1193,"height":2,"view":{"fill":"#000","stroke":null},"data":{"values":[{}]},"mark":{"type":"rule","opacity":0},"encoding":{}},
{"hconcat":[
{"width":2,"height":1236,"view":{"fill":"#000","stroke":null},"data":{"values":[{}]},"mark":{"type":"rule","opacity":0},"encoding":{}},
{"vconcat":[
{"hconcat":[
{"width":640,"height":415,"view":{"stroke":null},"layer":[
{"data":{"name":"carte1"},"mark":{"type":"rect"},"encoding":{"x":{"field":"x0","type":"quantitative","scale":{"domain":[-60,1860],"nice":false,"zero":false,"round":true},"axis":null},"x2":{"field":"x1"},"y":{"field":"y0","type":"quantitative","scale":{"domain":[-81,1164],"reverse":true,"nice":false,"zero":false,"round":true},"axis":null},"y2":{"field":"y1"},"color":{"field":"c","type":"nominal","scale":{"domain":["-1100 à -500","-500 à -250","-250 à 0","0 à 250","250 à 500","500 à 1000","1000 à 1500","1500 à 2000","2000 à 2500"],"range":["#ffffff","#dedede","#bdbdbd","#a0a0a0","#818181","#636363","#424242","#212121","#000000"]},"legend":{"orient":"none","legendX":426,"legendY":107,"title":null,"padding":0,"symbolType":"M-1.375,-1H1.375V1H-1.375Z","symbolSize":256,"symbolStrokeColor":"#444444","symbolStrokeWidth":1,"rowPadding":-1.3,"labelFont":"Liberation Sans","labelFontSize":14.3,"labelColor":"#333333","labelOffset":9}}}},
{"data":{"name":"frontieres"},"mark":{"type":"line","color":"#f0f0f0","strokeWidth":1.2},"encoding":{"x":{"field":"x","type":"quantitative"},"y":{"field":"y","type":"quantitative"},"detail":{"field":"s"},"order":{"field":"o","type":"quantitative"}}},
{"data":{"name":"echelle"},"mark":{"type":"rect","color":"#000"},"encoding":{"x":{"field":"x0","type":"quantitative"},"x2":{"field":"x1"},"y":{"field":"y0","type":"quantitative"},"y2":{"field":"y1"}}},
{"data":{"name":"echelleCadre"},"mark":{"type":"rect","fillOpacity":0,"stroke":"#000","strokeWidth":1},"encoding":{"x":{"field":"x0","type":"quantitative"},"x2":{"field":"x1"},"y":{"field":"y0","type":"quantitative"},"y2":{"field":"y1"}}},
{"data":{"name":"echelleTexte"},"mark":{"type":"text","fontSize":11,"color":"#222","font":"Liberation Sans"},"encoding":{"x":{"field":"x","type":"quantitative"},"y":{"field":"y","type":"quantitative"},"text":{"field":"t"}}},
{"data":{"name":"boussole"},"mark":{"type":"point","shape":"circle","filled":false,"stroke":"#000","strokeWidth":2.5,"size":5476,"opacity":1},"encoding":{"x":{"field":"x","type":"quantitative"},"y":{"field":"y","type":"quantitative"}}},
{"data":{"name":"boussole"},"mark":{"type":"point","shape":"M-1,-1L-0.2,0L-1,1L0,0.2L1,1L0.2,0L1,-1L0,-0.2Z","filled":true,"fill":"#808080","stroke":null,"size":2304,"opacity":1},"encoding":{"x":{"field":"x","type":"quantitative"},"y":{"field":"y","type":"quantitative"}}},
{"data":{"name":"boussole"},"mark":{"type":"point","shape":"M0,-1L0.22,-0.22L1,0L0.22,0.22L0,1L-0.22,0.22L-1,0L-0.22,-0.22Z","filled":true,"fill":"#000","stroke":null,"size":7056,"opacity":1},"encoding":{"x":{"field":"x","type":"quantitative"},"y":{"field":"y","type":"quantitative"}}},
{"data":{"name":"boussole"},"mark":{"type":"text","fontSize":13,"fontWeight":"bold","color":"#ddd","dy":-17,"font":"Liberation Sans"},"encoding":{"x":{"field":"x","type":"quantitative"},"y":{"field":"y","type":"quantitative"},"text":{"field":"t"}}}
]},
{"vconcat":[
{"width":1,"height":1,"view":{"stroke":null},"data":{"values":[{}]},"mark":{"type":"rule","opacity":0},"encoding":{}},
{"width":456,"height":177,"title":{"text":"ACP1 : Effet de masse (37,7%)","font":"Liberation Sans","fontSize":29,"fontWeight":"bold","color":"#000","anchor":"middle","offset":-2,"dx":-7},"view":{"stroke":"#808080","strokeWidth":2},"data":{"name":"series"},"layer":[
{"mark":{"type":"bar","fill":"#4f4f8e","stroke":"#0c0c30","strokeWidth":1},"encoding":{"x":{"field":"mois","type":"nominal","sort":null,"scale":{"paddingInner":0.08,"paddingOuter":0.04},"axis":{"title":null,"domain":false,"ticks":false,"labelAngle":270,"labelOverlap":false,"labelFont":"Liberation Sans","labelFontSize":19.5,"labelColor":"#222","labelPadding":15,"labelOffset":1,"values":["janv-98","juil-98","janv-99","juil-99","janv-00","juil-00","janv-01","juil-01","janv-02","juil-02","janv-03","juil-03","janv-04","juil-04","janv-05","juil-05","janv-06","juil-06"]}},"y":{"field":"acp1","type":"quantitative","scale":{"domain":[-0.4,1],"nice":false},"axis":{"title":null,"values":[-0.4,-0.2,0,0.2,0.4,0.6,0.8,1],"tickCount":20,"labelExpr":"replace(format(datum.value,'.2f'),'−','-')","grid":true,"gridColor":"#888","domainColor":"#808080","tickColor":"#808080","tickSize":5,"labelFont":"Liberation Sans","labelFontSize":21,"labelColor":"#111","labelPadding":2,"labelOverlap":false,"labelFlush":false}}}},
{"mark":{"type":"rule","color":"#000","strokeWidth":1.5},"encoding":{"y":{"datum":0}}},
{"mark":{"type":"rule","color":"#666","strokeWidth":1},"encoding":{"x":{"field":"mois","type":"nominal","sort":null,"bandPosition":0},"y":{"datum":0},"y2":{"datum":-0.03},"opacity":{"condition":{"test":"test(/^(janv|juil)/, datum.mois)","value":1},"value":0}}}
]}
],"spacing":110,"bounds":"flush"}
],"spacing":6.5,"resolve":{"scale":{"color":"independent"},"legend":{"color":"independent"}}},
{"hconcat":[
{"width":640,"height":394,"view":{"stroke":null},"layer":[
{"data":{"name":"carte2"},"mark":{"type":"rect"},"encoding":{"x":{"field":"x0","type":"quantitative","scale":{"domain":[-75,1845],"nice":false,"zero":false,"round":true},"axis":null},"x2":{"field":"x1"},"y":{"field":"y0","type":"quantitative","scale":{"domain":[-21,1161],"reverse":true,"nice":false,"zero":false,"round":true},"axis":null},"y2":{"field":"y1"},"color":{"field":"c","type":"nominal","scale":{"domain":["-1100 à -500","-500 à -250","-250 à 0","0 à 250","250 à 500","500 à 1000","1000 à 1500","1500 à 2000","2000 à 2500"],"range":["#ffffff","#dedede","#bdbdbd","#a0a0a0","#818181","#636363","#424242","#212121","#000000"]},"legend":{"orient":"none","legendX":430,"legendY":88,"title":null,"padding":0,"symbolType":"M-1.375,-1H1.375V1H-1.375Z","symbolSize":256,"symbolStrokeColor":"#444444","symbolStrokeWidth":1,"rowPadding":-1.3,"labelFont":"Liberation Sans","labelFontSize":14.3,"labelColor":"#333333","labelOffset":9}}}},
{"data":{"name":"frontieres"},"mark":{"type":"line","color":"#000","strokeWidth":1.2},"encoding":{"x":{"field":"x","type":"quantitative"},"y":{"field":"y","type":"quantitative"},"detail":{"field":"s"},"order":{"field":"o","type":"quantitative"}}},
{"data":{"name":"echelle"},"mark":{"type":"rect","color":"#000"},"encoding":{"x":{"field":"x0","type":"quantitative"},"x2":{"field":"x1"},"y":{"field":"y0","type":"quantitative"},"y2":{"field":"y1"}}},
{"data":{"name":"echelleCadre"},"mark":{"type":"rect","fillOpacity":0,"stroke":"#000","strokeWidth":1},"encoding":{"x":{"field":"x0","type":"quantitative"},"x2":{"field":"x1"},"y":{"field":"y0","type":"quantitative"},"y2":{"field":"y1"}}},
{"data":{"name":"echelleTexte"},"mark":{"type":"text","fontSize":11,"color":"#222","font":"Liberation Sans"},"encoding":{"x":{"field":"x","type":"quantitative"},"y":{"field":"y","type":"quantitative"},"text":{"field":"t"}}},
{"data":{"name":"boussole"},"mark":{"type":"point","shape":"circle","filled":false,"stroke":"#000","strokeWidth":2.5,"size":5476,"opacity":1},"encoding":{"x":{"field":"x","type":"quantitative"},"y":{"field":"y","type":"quantitative"}}},
{"data":{"name":"boussole"},"mark":{"type":"point","shape":"M-1,-1L-0.2,0L-1,1L0,0.2L1,1L0.2,0L1,-1L0,-0.2Z","filled":true,"fill":"#808080","stroke":null,"size":2304,"opacity":1},"encoding":{"x":{"field":"x","type":"quantitative"},"y":{"field":"y","type":"quantitative"}}},
{"data":{"name":"boussole"},"mark":{"type":"point","shape":"M0,-1L0.22,-0.22L1,0L0.22,0.22L0,1L-0.22,0.22L-1,0L-0.22,-0.22Z","filled":true,"fill":"#000","stroke":null,"size":7056,"opacity":1},"encoding":{"x":{"field":"x","type":"quantitative"},"y":{"field":"y","type":"quantitative"}}},
{"data":{"name":"boussole"},"mark":{"type":"text","fontSize":13,"fontWeight":"bold","color":"#ddd","dy":-17,"font":"Liberation Sans"},"encoding":{"x":{"field":"x","type":"quantitative"},"y":{"field":"y","type":"quantitative"},"text":{"field":"t"}}}
]},
{"vconcat":[
{"width":1,"height":1,"view":{"stroke":null},"data":{"values":[{}]},"mark":{"type":"rule","opacity":0},"encoding":{}},
{"width":456,"height":182,"title":{"text":"ACP2 : Effet saisonnier (15,1%)","font":"Liberation Sans","fontSize":28.2,"fontWeight":"bold","color":"#000","anchor":"middle","offset":4,"dx":-7.5},"view":{"stroke":"#808080","strokeWidth":2},"data":{"name":"series"},"layer":[
{"mark":{"type":"bar","fill":"#4f4f8e","stroke":"#0c0c30","strokeWidth":1},"encoding":{"x":{"field":"mois","type":"nominal","sort":null,"scale":{"paddingInner":0.08,"paddingOuter":0.04},"axis":{"title":null,"domain":false,"ticks":false,"labelAngle":270,"labelOverlap":false,"labelFont":"Liberation Sans","labelFontSize":19.5,"labelColor":"#222","labelPadding":15,"labelOffset":1,"values":["janv-98","juil-98","janv-99","juil-99","janv-00","juil-00","janv-01","juil-01","janv-02","juil-02","janv-03","juil-03","janv-04","juil-04","janv-05","juil-05","janv-06","juil-06"]}},"y":{"field":"acp2","type":"quantitative","scale":{"domain":[-1,1],"nice":false},"axis":{"title":null,"values":[-1,-0.5,0,0.5,1],"tickCount":20,"labelExpr":"replace(format(datum.value,'.2f'),'−','-')","grid":true,"gridColor":"#888","domainColor":"#808080","tickColor":"#808080","tickSize":5,"labelFont":"Liberation Sans","labelFontSize":21,"labelColor":"#111","labelPadding":2,"labelOverlap":false,"labelFlush":false}}}},
{"mark":{"type":"rule","color":"#000","strokeWidth":1.5},"encoding":{"y":{"datum":0}}},
{"mark":{"type":"rule","color":"#666","strokeWidth":1},"encoding":{"x":{"field":"mois","type":"nominal","sort":null,"bandPosition":0},"y":{"datum":0},"y2":{"datum":-0.04},"opacity":{"condition":{"test":"test(/^(janv|juil)/, datum.mois)","value":1},"value":0}}}
]}
],"spacing":94,"bounds":"flush"}
],"spacing":6.5,"resolve":{"scale":{"color":"independent"},"legend":{"color":"independent"}}},
{"hconcat":[
{"width":640,"height":403,"view":{"stroke":null},"layer":[
{"data":{"name":"carte3"},"mark":{"type":"rect"},"encoding":{"x":{"field":"x0","type":"quantitative","scale":{"domain":[-90,1830],"nice":false,"zero":false,"round":true},"axis":null},"x2":{"field":"x1"},"y":{"field":"y0","type":"quantitative","scale":{"domain":[-9,1200],"reverse":true,"nice":false,"zero":false,"round":true},"axis":null},"y2":{"field":"y1"},"color":{"field":"c","type":"nominal","scale":{"domain":["-1100 à -500","-500 à -250","-250 à 0","0 à 250","250 à 500","500 à 1000","1000 à 1500","1500 à 2000","2000 à 2500"],"range":["#ffffff","#dedede","#bdbdbd","#a0a0a0","#818181","#636363","#424242","#212121","#000000"]},"legend":{"orient":"none","legendX":436,"legendY":87,"title":null,"padding":0,"symbolType":"M-1.375,-1H1.375V1H-1.375Z","symbolSize":256,"symbolStrokeColor":"#444444","symbolStrokeWidth":1,"rowPadding":-1.3,"labelFont":"Liberation Sans","labelFontSize":14.3,"labelColor":"#333333","labelOffset":9}}}},
{"data":{"name":"frontieres"},"mark":{"type":"line","color":"#000","strokeWidth":1.2},"encoding":{"x":{"field":"x","type":"quantitative"},"y":{"field":"y","type":"quantitative"},"detail":{"field":"s"},"order":{"field":"o","type":"quantitative"}}},
{"data":{"name":"echelle"},"mark":{"type":"rect","color":"#000"},"encoding":{"x":{"field":"x0","type":"quantitative"},"x2":{"field":"x1"},"y":{"field":"y0","type":"quantitative"},"y2":{"field":"y1"}}},
{"data":{"name":"echelleCadre"},"mark":{"type":"rect","fillOpacity":0,"stroke":"#000","strokeWidth":1},"encoding":{"x":{"field":"x0","type":"quantitative"},"x2":{"field":"x1"},"y":{"field":"y0","type":"quantitative"},"y2":{"field":"y1"}}},
{"data":{"name":"echelleTexte"},"mark":{"type":"text","fontSize":11,"color":"#222","font":"Liberation Sans"},"encoding":{"x":{"field":"x","type":"quantitative"},"y":{"field":"y","type":"quantitative"},"text":{"field":"t"}}},
{"data":{"name":"boussole"},"mark":{"type":"point","shape":"circle","filled":false,"stroke":"#000","strokeWidth":2.5,"size":5476,"opacity":1},"encoding":{"x":{"field":"x","type":"quantitative"},"y":{"field":"y","type":"quantitative"}}},
{"data":{"name":"boussole"},"mark":{"type":"point","shape":"M-1,-1L-0.2,0L-1,1L0,0.2L1,1L0.2,0L1,-1L0,-0.2Z","filled":true,"fill":"#808080","stroke":null,"size":2304,"opacity":1},"encoding":{"x":{"field":"x","type":"quantitative"},"y":{"field":"y","type":"quantitative"}}},
{"data":{"name":"boussole"},"mark":{"type":"point","shape":"M0,-1L0.22,-0.22L1,0L0.22,0.22L0,1L-0.22,0.22L-1,0L-0.22,-0.22Z","filled":true,"fill":"#000","stroke":null,"size":7056,"opacity":1},"encoding":{"x":{"field":"x","type":"quantitative"},"y":{"field":"y","type":"quantitative"}}},
{"data":{"name":"boussole"},"mark":{"type":"text","fontSize":13,"fontWeight":"bold","color":"#ddd","dy":-17,"font":"Liberation Sans"},"encoding":{"x":{"field":"x","type":"quantitative"},"y":{"field":"y","type":"quantitative"},"text":{"field":"t"}}}
]},
{"vconcat":[
{"width":1,"height":1,"view":{"stroke":null},"data":{"values":[{}]},"mark":{"type":"rule","opacity":0},"encoding":{}},
{"width":453,"height":180,"title":{"text":"ACP3 : Variabilité interannuelle (6,2%)","font":"Liberation Sans","fontSize":28.2,"fontWeight":"bold","color":"#000","anchor":"middle","offset":3,"dx":-6},"view":{"stroke":"#808080","strokeWidth":2},"data":{"name":"series"},"layer":[
{"mark":{"type":"bar","fill":"#4f4f8e","stroke":"#0c0c30","strokeWidth":1},"encoding":{"x":{"field":"mois","type":"nominal","sort":null,"scale":{"paddingInner":0.08,"paddingOuter":0.04},"axis":{"title":null,"domain":false,"ticks":false,"labelAngle":270,"labelOverlap":false,"labelFont":"Liberation Sans","labelFontSize":19.5,"labelColor":"#222","labelPadding":15,"labelOffset":1,"values":["janv-98","juil-98","janv-99","juil-99","janv-00","juil-00","janv-01","juil-01","janv-02","juil-02","janv-03","juil-03","janv-04","juil-04","janv-05","juil-05","janv-06","juil-06"]}},"y":{"field":"acp3","type":"quantitative","scale":{"domain":[-0.6,0.8],"nice":false},"axis":{"title":null,"values":[-0.6,-0.4,-0.2,0,0.2,0.4,0.6,0.8],"tickCount":20,"labelExpr":"replace(format(datum.value,'.2f'),'−','-')","grid":true,"gridColor":"#888","domainColor":"#808080","tickColor":"#808080","tickSize":5,"labelFont":"Liberation Sans","labelFontSize":21,"labelColor":"#111","labelPadding":2,"labelOverlap":false,"labelFlush":false}}}},
{"mark":{"type":"rule","color":"#000","strokeWidth":1.5},"encoding":{"y":{"datum":0}}},
{"mark":{"type":"rule","color":"#666","strokeWidth":1},"encoding":{"x":{"field":"mois","type":"nominal","sort":null,"bandPosition":0},"y":{"datum":0},"y2":{"datum":-0.03},"opacity":{"condition":{"test":"test(/^(janv|juil)/, datum.mois)","value":1},"value":0}}}
]}
],"spacing":86,"bounds":"flush"}
],"spacing":12,"resolve":{"scale":{"color":"independent"},"legend":{"color":"independent"}}}
],"spacing":0,"resolve":{"scale":{"color":"independent"},"legend":{"color":"independent"}}}
],"spacing":0,"resolve":{"scale":{"color":"independent"},"legend":{"color":"independent"}}}
],"spacing":0,"resolve":{"scale":{"color":"independent"},"legend":{"color":"independent"}}}
